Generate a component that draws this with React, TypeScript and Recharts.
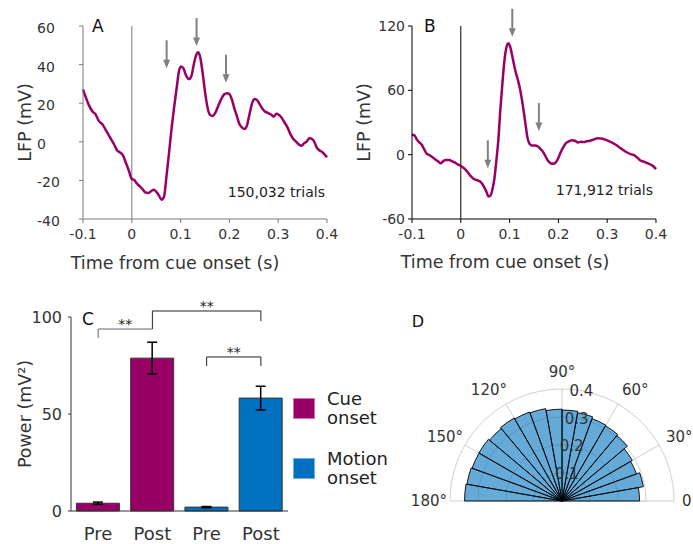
import React from 'react';
import {
  ComposedChart, Line, Scatter, XAxis, YAxis, ReferenceLine, ReferenceDot, Label,
  BarChart, Bar, Cell, ErrorBar, Legend,
  RadialBarChart, RadialBar, PolarAngleAxis, PolarRadiusAxis, PolarGrid,
  PieChart, Pie,
} from 'recharts';

const FONT = "'DejaVu Sans', 'Liberation Sans', sans-serif";

// ---------- Panel A / B : LFP traces ----------
const timeTicks = [-0.1, 0, 0.1, 0.2, 0.3, 0.4];
const lfpTicksA = [-40, -20, 0, 20, 40, 60];
const lfpTicksB = [-60, 0, 60, 120];

const timesA = [-0.1, -0.095, -0.088, -0.08, -0.075, -0.068, -0.06, -0.052, -0.044, -0.037, -0.03, -0.024, -0.018, -0.012, -0.006, 0, 0.005, 0.01, 0.016, 0.022, 0.028, 0.034, 0.04, 0.045, 0.05, 0.056, 0.061, 0.066, 0.071, 0.077, 0.082, 0.087, 0.092, 0.097, 0.101, 0.106, 0.111, 0.117, 0.122, 0.127, 0.132, 0.136, 0.14, 0.145, 0.15, 0.155, 0.16, 0.166, 0.171, 0.177, 0.183, 0.189, 0.195, 0.2, 0.205, 0.21, 0.215, 0.22, 0.226, 0.231, 0.236, 0.241, 0.246, 0.251, 0.256, 0.262, 0.268, 0.274, 0.28, 0.286, 0.291, 0.296, 0.301, 0.307, 0.313, 0.319, 0.325, 0.331, 0.337, 0.343, 0.348, 0.353, 0.358, 0.364, 0.369, 0.374, 0.379, 0.385, 0.39, 0.395, 0.4];
const lfpA = [27.2, 23.5, 19, 15.5, 14.5, 11, 9, 5.5, 2, -1, -4.5, -5.5, -7, -11, -15, -19.3, -19.8, -21.5, -23, -24.5, -26.3, -26.5, -25.5, -24.8, -25.8, -28, -30, -28.5, -18, -4, 8, 18.5, 28, 37, 39, 38, 34.5, 32.5, 34, 40, 45, 46.4, 44, 36, 26, 18, 14, 13.4, 15, 18.5, 22, 24.5, 25.2, 24.8, 22, 17.5, 13.5, 9.5, 7.3, 6.6, 8.5, 14, 19.5, 22.2, 21.8, 19.5, 17, 15.5, 14.8, 14, 13, 14.5, 14, 12.5, 10, 7.5, 4, 1.5, 0, -1.5, -2, -0.8, 0, 1.8, 1.5, 0, -3, -4.5, -5.3, -6.5, -8];

const timesB = [-0.1, -0.095, -0.09, -0.085, -0.08, -0.075, -0.07, -0.064, -0.058, -0.052, -0.046, -0.041, -0.036, -0.03, -0.024, -0.018, -0.012, -0.006, 0, 0.006, 0.011, 0.016, 0.021, 0.026, 0.031, 0.037, 0.042, 0.047, 0.052, 0.057, 0.061, 0.065, 0.069, 0.073, 0.077, 0.081, 0.085, 0.089, 0.093, 0.097, 0.101, 0.105, 0.109, 0.113, 0.117, 0.121, 0.125, 0.129, 0.133, 0.137, 0.141, 0.146, 0.152, 0.158, 0.163, 0.168, 0.173, 0.179, 0.184, 0.189, 0.194, 0.199, 0.204, 0.21, 0.216, 0.222, 0.228, 0.234, 0.24, 0.246, 0.252, 0.258, 0.265, 0.272, 0.28, 0.288, 0.296, 0.304, 0.312, 0.32, 0.327, 0.334, 0.341, 0.348, 0.354, 0.361, 0.368, 0.375, 0.382, 0.39, 0.395, 0.4];
const lfpB = [18.5, 18, 14, 11.5, 9.2, 5, 1, -0.5, -2.5, -4.5, -6.5, -8, -6, -5, -5, -6, -7.5, -9, -10.5, -12.5, -14.7, -17.5, -20.3, -22.5, -23.5, -24.5, -26, -29.5, -34, -38.9, -38, -32, -22, -5, 14, 42, 65, 86, 99, 104, 101, 93, 84, 76, 69.7, 62, 52, 40, 27, 15, 10, 8.6, 8.5, 7.6, 5.5, 3, -1, -6, -8, -8.5, -7.5, -4, 1.5, 7, 11, 12.5, 13.5, 13, 11.4, 12, 11.7, 12.5, 13, 14, 15.4, 15, 14, 12.5, 10.8, 8.5, 6.1, 4, 2, 0.5, -0.1, -2.5, -5.4, -6.5, -7.9, -9.5, -11, -13.5];

// arrow tips (time, LFP)
const arrowTimesA = [0.0714, 0.1327, 0.193];
const arrowTipsA = [38.1, 49.6, 30.6];
const arrowTimesB = [0.1055, 0.16, 0.0554];
const arrowTipsB = [110, 22, -12.7];

const trialsA = '150,032 trials';
const trialsB = '171,912 trials';

const zip = (ts: number[], vs: number[]) => ts.map((t, i) => ({ t, v: vs[i] }));
const lineDataA = zip(timesA, lfpA);
const lineDataB = zip(timesB, lfpB);
const arrowDataA = zip(arrowTimesA, arrowTipsA);
const arrowDataB = zip(arrowTimesB, arrowTipsB);

// ---------- Panel C : bar chart ----------
const barCats = ['cuePre', 'cuePost', 'motionPre', 'motionPost'];
const barLabels = ['Pre', 'Post', 'Pre', 'Post'];
const barPower = [4.0, 78.8, 2.0, 58.2];
const barErr = [0.6, 8.2, 0.3, 6.1];
const barColors = ['#990066', '#990066', '#0070C0', '#0070C0'];
const barData = barCats.map((c, i) => ({ cat: c, power: barPower[i], err: barErr[i] }));

const legendNames = [['Cue', 'onset'], ['Motion', 'onset']];
const legendColors = ['#990066', '#0070C0'];
const legendBorders = ['#c77aa8', '#6fb0e0'];

// significance brackets: [x1, y1, x2, y2, label, colour]
const bracketSegs: [string, number, string, number, string, string][] = [
  ['cuePre', 89.2, 'cuePre', 93.8, '', '#666'],
  ['cuePre', 93.8, 'cuePost', 93.8, '**', '#666'],
  ['cuePost', 93.8, 'cuePost', 103.1, '', '#222'],
  ['cuePost', 103.1, 'motionPost', 103.1, '**', '#222'],
  ['motionPost', 103.1, 'motionPost', 97.9, '', '#222'],
  ['motionPre', 74.7, 'motionPre', 79.4, '', '#222'],
  ['motionPre', 79.4, 'motionPost', 79.4, '**', '#222'],
  ['motionPost', 79.4, 'motionPost', 74.7, '', '#222'],
];

// ---------- Panel D : polar histogram ----------
const binLabels = ['0-10', '10-20', '20-30', '30-40', '40-50', '50-60', '60-70', '70-80', '80-90', '90-100', '100-110', '110-120', '120-130', '130-140', '140-150', '150-160', '160-170', '170-180'];
const binProb = [0.277, 0.295, 0.283, 0.29, 0.305, 0.31, 0.313, 0.32, 0.325, 0.328, 0.335, 0.338, 0.342, 0.338, 0.343, 0.342, 0.345, 0.348];
const polarData = binLabels.map((b, i) => ({ bin: b, p: binProb[i] }));
const angleTicks = [0, 30, 60, 90, 120, 150, 180];
const angleLabels = angleTicks.map((a) => ({ name: `${a}°`, angle: a, value: 1 }));
const radiusTicks = [0.1, 0.2, 0.3, 0.4];
const gridSpokes = [30, 60, 90, 120, 150];
const arcAngles = Array.from({ length: 61 }, (_, i) => i * 3);

const LINE_COLOR = '#990066';

const Arrow = (props: any) => {
  const { cx, cy } = props;
  if (cx == null || cy == null) return null;
  return (
    <g>
      <line x1={cx} y1={cy - 28} x2={cx} y2={cy - 6} stroke="#808080" strokeWidth={2} />
      <polygon points={`${cx - 3.5},${cy - 8.5} ${cx + 3.5},${cy - 8.5} ${cx},${cy}`} fill="#808080" />
    </g>
  );
};

const leftTick = (props: any) => {
  const { x, y, payload } = props;
  return (
    <text x={x - 40} y={y + 2} dy="0.355em" textAnchor="start" fontSize={14} fontFamily={FONT} fill="#333">
      {payload.value}
    </text>
  );
};

const degLabel = (props: any) => {
  const { x, y, index } = props;
  const v = angleLabels[index].angle;
  const a = (v * Math.PI) / 180;
  const anchor = v === 90 ? 'middle' : v < 90 ? 'start' : 'end';
  const dx = anchor === 'end' ? 5 : 0;
  return (
    <text x={x + dx} y={y - 9 * Math.sin(a)} dy="0.355em" textAnchor={anchor} fontSize={15} fontFamily={FONT} fill="#333">
      {angleLabels[index].name}
    </text>
  );
};

const rTick = (props: any) => {
  const { x, y, payload } = props;
  return (
    <text x={x} y={y} dy="0.355em" textAnchor="middle" fontSize={15} fontFamily={FONT} fill="#333">
      {payload.value}
    </text>
  );
};

const renderLegend = () => (
  <div style={{ fontFamily: FONT, fontSize: 18, color: '#222' }}>
    {legendNames.map((n, i) => (
      <div key={i} style={{ display: 'flex', alignItems: 'center', marginBottom: i === 0 ? 22 : 0 }}>
        <div
          style={{
            width: 22, height: 21, background: legendColors[i], border: `1px solid ${legendBorders[i]}`,
            boxSizing: 'border-box', marginRight: 12, flexShrink: 0,
          }}
        />
        <div style={{ lineHeight: '19px', whiteSpace: 'nowrap' }}>
          {n[0]}
          <br />
          {n[1]}
        </div>
      </div>
    ))}
  </div>
);

const axisTitleStyle = { fontSize: 17.5, fontFamily: FONT, fill: '#333' };

const polarFrame = {
  width: 293, height: 244, cx: 162, cy: 201, innerRadius: 0, outerRadius: 112,
  startAngle: 10, endAngle: 190, margin: { top: 0, right: 0, bottom: 0, left: 0 },
};

export default function App() {
  return (
    <div style={{ position: 'absolute', left: 0, top: 0, width: 693, height: 544, background: '#fff', overflow: 'hidden' }}>
      {/* Panel A */}
      <div style={{ position: 'absolute', left: 0, top: 0 }}>
        <ComposedChart width={340} height={285} margin={{ top: 26, right: 13, bottom: 0, left: 0 }}>
          <XAxis
            type="number" dataKey="t" domain={[-0.1, 0.4]} ticks={timeTicks} interval={0}
            stroke="#7a7a7a" tickSize={4} tickMargin={6} height={66}
            tick={{ fill: '#333', fontSize: 14, fontFamily: FONT }}
          >
            <Label value="Time from cue onset (s)" position="insideBottom" offset={16} dx={-30} style={axisTitleStyle} />
          </XAxis>
          <YAxis
            type="number" domain={[-40, 60]} ticks={lfpTicksA} interval={0} width={83}
            stroke="#7a7a7a" tickSize={4} tickMargin={2} tick={leftTick}
          >
            <Label value="LFP (mV)" angle={-90} position="insideLeft" offset={25} style={{ ...axisTitleStyle, textAnchor: 'middle' }} />
          </YAxis>
          <ReferenceLine x={0} stroke="#7a7a7a" strokeWidth={1} />
          <Line data={lineDataA} dataKey="v" type="monotone" stroke={LINE_COLOR} strokeWidth={2.5} dot={false} isAnimationActive={false} />
          <Scatter data={arrowDataA} dataKey="v" shape={<Arrow />} isAnimationActive={false} />
          <ReferenceDot
            x={0.4} y={-26} r={0} fill="none" stroke="none"
            label={{ value: trialsA, position: 'left', offset: 2, fontSize: 14, fontFamily: FONT, fill: '#222' }}
          />
        </ComposedChart>
      </div>

      {/* Panel B */}
      <div style={{ position: 'absolute', left: 340, top: 0 }}>
        <ComposedChart width={353} height={285} margin={{ top: 26, right: 37, bottom: 0, left: 0 }}>
          <XAxis
            type="number" dataKey="t" domain={[-0.1, 0.4]} ticks={timeTicks} interval={0}
            stroke="#000" tickSize={4} tickMargin={6} height={66}
            tick={{ fill: '#333', fontSize: 14, fontFamily: FONT }}
          >
            <Label value="Time from cue onset (s)" position="insideBottom" offset={17} dx={-29} style={axisTitleStyle} />
          </XAxis>
          <YAxis
            type="number" domain={[-60, 120]} ticks={lfpTicksB} interval={0} width={72}
            stroke="#000" tickSize={4} tickMargin={3}
            tick={{ fill: '#333', fontSize: 14, fontFamily: FONT }}
          >
            <Label value="LFP (mV)" angle={-90} position="insideLeft" offset={24} style={{ ...axisTitleStyle, textAnchor: 'middle' }} />
          </YAxis>
          <ReferenceLine x={0} stroke="#000" strokeWidth={1} />
          <Line data={lineDataB} dataKey="v" type="monotone" stroke={LINE_COLOR} strokeWidth={2.5} dot={false} isAnimationActive={false} />
          <Scatter data={arrowDataB} dataKey="v" shape={<Arrow />} isAnimationActive={false} />
          <ReferenceDot
            x={0.4} y={-33} r={0} fill="none" stroke="none"
            label={{ value: trialsB, position: 'left', offset: 3, fontSize: 14, fontFamily: FONT, fill: '#222' }}
          />
        </ComposedChart>
      </div>

      {/* Panel C */}
      <div style={{ position: 'absolute', left: 0, top: 290 }}>
        <BarChart width={400} height={254} data={barData} margin={{ top: 27, right: 112, bottom: 0, left: 0 }} barCategoryGap="10%">
          <XAxis
            dataKey="cat" stroke="#333" tickLine={false} tickSize={0} tickMargin={16} height={33} interval={0}
            tickFormatter={(v: string) => barLabels[barCats.indexOf(v)]}
            tick={{ fill: '#333', fontSize: 18, fontFamily: FONT }}
          />
          <YAxis
            type="number" domain={[0, 100]} ticks={[0, 50, 100]} interval={0} width={71}
            stroke="#333" tickSize={3} tickMargin={6}
            tick={{ fill: '#333', fontSize: 16, fontFamily: FONT }}
          >
            <Label value="Power (mV²)" angle={-90} position="insideLeft" offset={25} style={{ ...axisTitleStyle, textAnchor: 'middle' }} />
          </YAxis>
          <Bar dataKey="power" stroke="#333" strokeWidth={1} isAnimationActive={false}>
            {barData.map((d, i) => (
              <Cell key={d.cat} fill={barColors[i]} />
            ))}
            <ErrorBar dataKey="err" width={5} stroke="#000" strokeWidth={1.5} direction="y" />
          </Bar>
          {bracketSegs.map((s, i) => (
            <ReferenceLine
              key={i}
              segment={[{ x: s[0], y: s[1] }, { x: s[2], y: s[3] }]}
              stroke={s[5]}
              strokeWidth={1}
              ifOverflow="visible"
              label={s[4] ? { value: s[4], position: 'top', offset: 0, fontSize: 14, fontFamily: FONT, fill: '#222' } : undefined}
            />
          ))}
          <Legend
            layout="vertical" align="center" verticalAlign="middle"
            wrapperStyle={{ left: 293, top: 99, width: 110 }}
            content={renderLegend}
          />
        </BarChart>
      </div>

      {/* Panel D : grid + wedges */}
      <div style={{ position: 'absolute', left: 400, top: 300 }}>
        <RadialBarChart {...polarFrame} data={polarData} layout="centric" barCategoryGap={0} barGap={0}>
          <PolarGrid gridType="polygon" polarAngles={arcAngles} radialLines={false} stroke="#cfcfcf" angleAxisId="bins" radiusAxisId="r" />
          <PolarGrid gridType="polygon" polarAngles={gridSpokes} polarRadius={[]} stroke="#cfcfcf" angleAxisId="bins" radiusAxisId="r" />
          <PolarAngleAxis angleAxisId="bins" type="category" dataKey="bin" tick={false} axisLine={false} tickLine={false} />
          <PolarRadiusAxis radiusAxisId="r" type="number" domain={[0, 0.4]} ticks={radiusTicks} angle={80} axisLine={false} tickLine={false} tick={false} />
          <RadialBar
            dataKey="p" angleAxisId="bins" radiusAxisId="r" fill="#0072BD" fillOpacity={0.6}
            stroke="#000" strokeWidth={0.9} isAnimationActive={false}
          />
        </RadialBarChart>
      </div>
      {/* Panel D : radius tick labels on top of the wedges */}
      <div style={{ position: 'absolute', left: 400, top: 300, pointerEvents: 'none' }}>
        <RadialBarChart {...polarFrame} data={polarData} layout="centric" barCategoryGap={0} barGap={0}>
          <PolarAngleAxis angleAxisId="bins" type="category" dataKey="bin" tick={false} axisLine={false} tickLine={false} />
          <PolarRadiusAxis radiusAxisId="r" type="number" domain={[0, 0.4]} ticks={radiusTicks} angle={80} axisLine={false} tickLine={false} tick={rTick} />
          <RadialBar dataKey="p" angleAxisId="bins" radiusAxisId="r" fill="none" stroke="none" isAnimationActive={false} />
        </RadialBarChart>
      </div>
      {/* Panel D : angle labels */}
      <div style={{ position: 'absolute', left: 400, top: 300, pointerEvents: 'none' }}>
        <PieChart width={293} height={244} margin={{ top: 0, right: 0, bottom: 0, left: 0 }}>
          <Pie
            data={angleLabels} dataKey="value" nameKey="name" cx={162} cy={201} innerRadius={0} outerRadius={100}
            startAngle={-15} endAngle={195} fill="none" stroke="none" label={degLabel} labelLine={false}
            isAnimationActive={false}
          />
        </PieChart>
      </div>

      {/* panel letters */}
      <svg width={693} height={544} style={{ position: 'absolute', left: 0, top: 0, pointerEvents: 'none' }}>
        <text x={92} y={32.3} fontSize={17} fontFamily={FONT} fill="#111">A</text>
        <text x={424} y={32.3} fontSize={17} fontFamily={FONT} fill="#111">B</text>
        <text x={82} y={325} fontSize={17} fontFamily={FONT} fill="#111">C</text>
        <text x={411.7} y={326.7} fontSize={16} fontFamily={FONT} fill="#111">D</text>
      </svg>
    </div>
  );
}
